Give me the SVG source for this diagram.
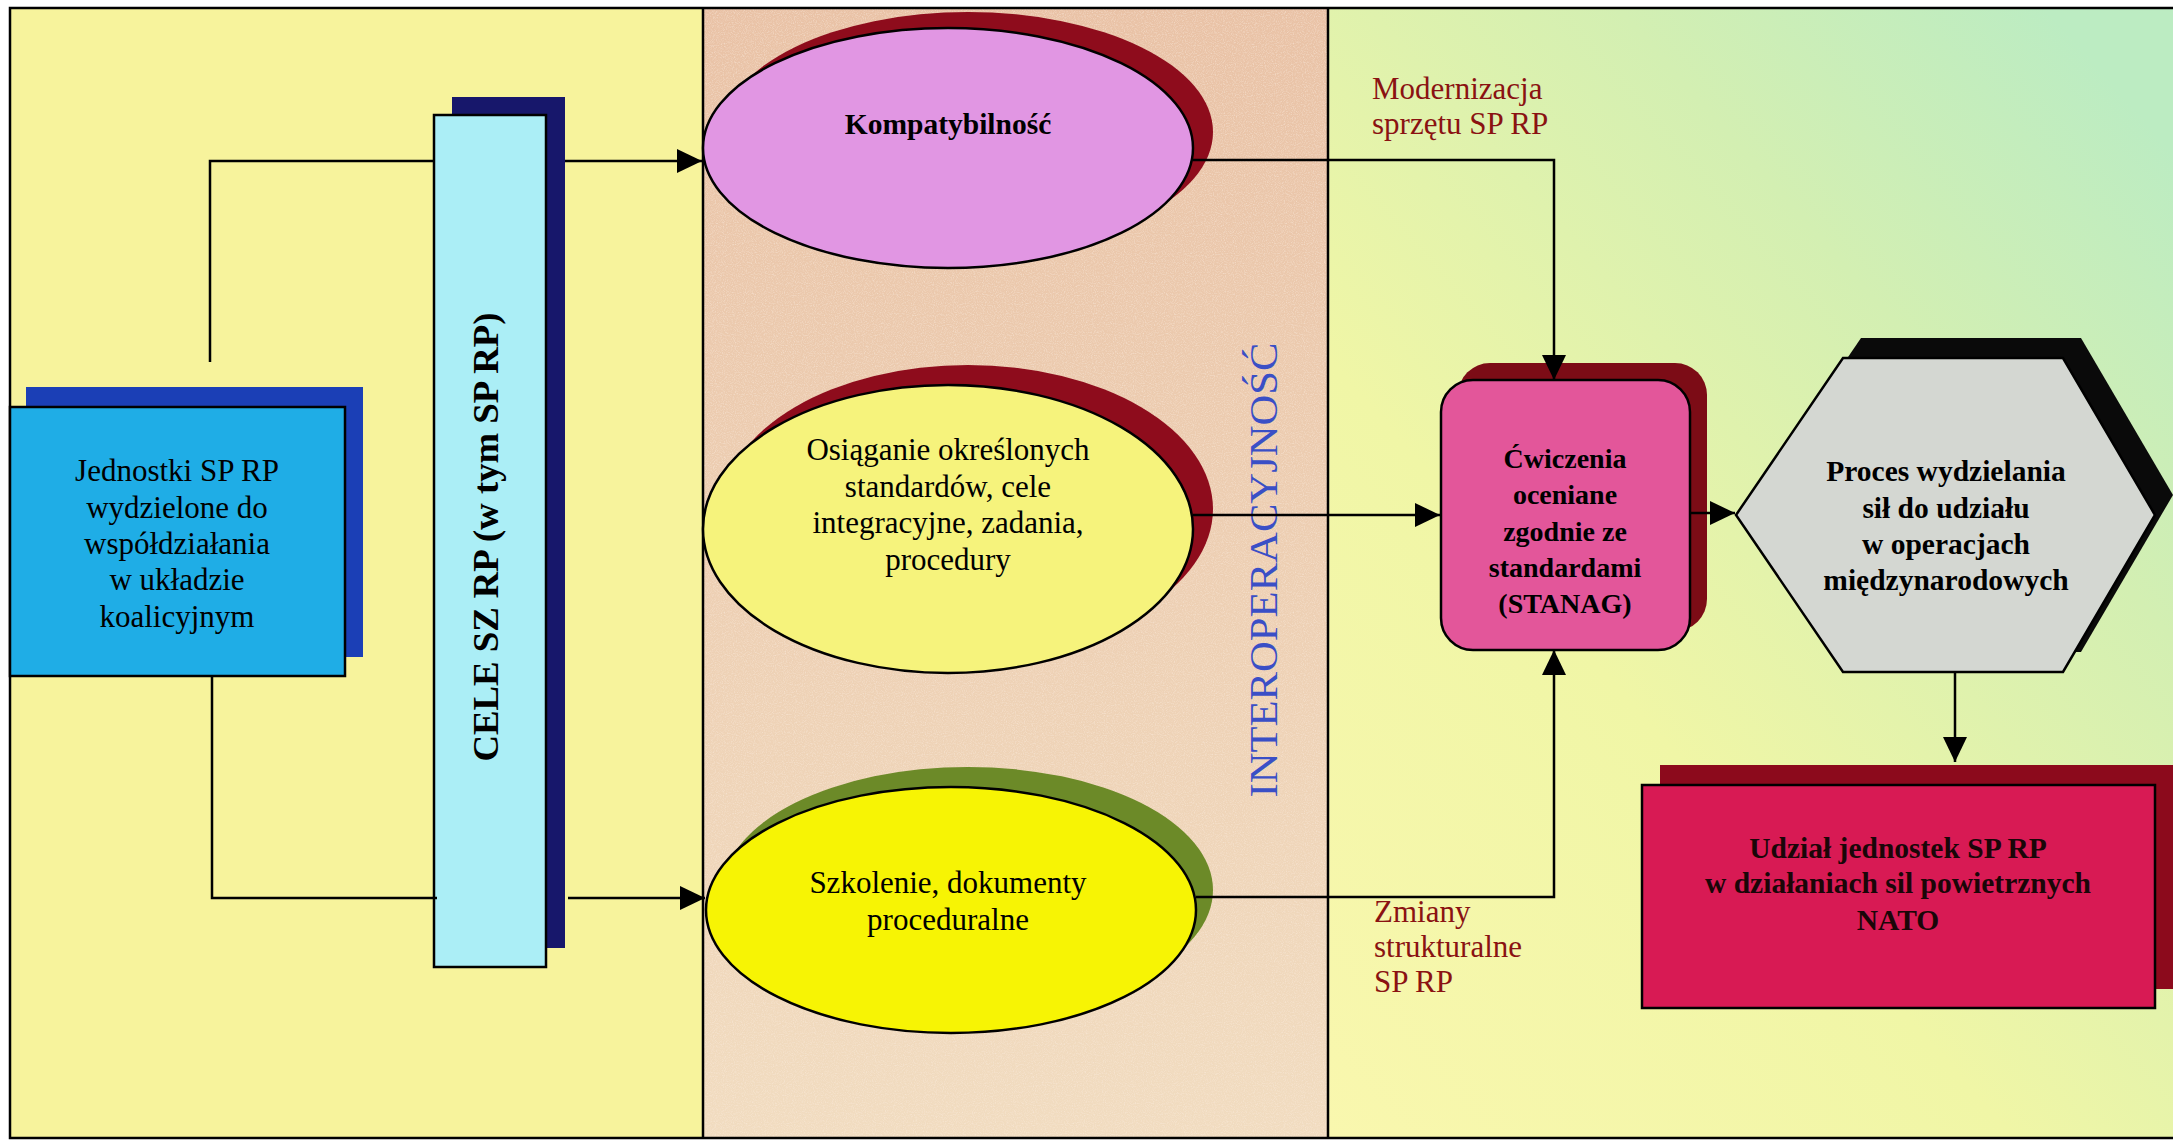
<svg xmlns="http://www.w3.org/2000/svg" width="2173" height="1141" viewBox="0 0 2173 1141">
<defs>
<style>
.ln{fill:none;stroke:#000;stroke-width:2.5}
.bd{stroke:#000;stroke-width:2.5}
.t{font-family:"Liberation Serif","Times New Roman",serif;text-anchor:middle;fill:#000}
.r{font-size:31px}
.b{font-size:28px;font-weight:bold}
.lab{font-family:"Liberation Serif","Times New Roman",serif;font-size:31px;fill:#8a1212}
</style>
<marker id="ah" markerUnits="userSpaceOnUse" markerWidth="26" markerHeight="24" refX="25" refY="12" orient="auto">
<path d="M0,0 L25,12 L0,24 z" fill="#000"/>
</marker>
<linearGradient id="g3" x1="0" y1="1" x2="0.85" y2="0">
<stop offset="0" stop-color="#f9f7ae"/>
<stop offset="0.4" stop-color="#f0f6a6"/>
<stop offset="0.75" stop-color="#d3efb2"/>
<stop offset="1" stop-color="#bcecc2"/>
</linearGradient>
<linearGradient id="g2" x1="0" y1="0" x2="0" y2="1">
<stop offset="0" stop-color="#e9c2a6"/>
<stop offset="1" stop-color="#f1dcc0"/>
</linearGradient>
<filter id="grain" x="0" y="0" width="100%" height="100%">
<feTurbulence type="fractalNoise" baseFrequency="0.9" numOctaves="2" seed="3" result="n"/>
<feColorMatrix in="n" type="matrix" values="0 0 0 0 0.97  0 0 0 0 0.85  0 0 0 0 0.75  0 0 0 1.6 -0.7" result="c"/>
<feComposite in="c" in2="SourceGraphic" operator="in"/>
</filter>
</defs>

<g id="background">
<rect x="10" y="8" width="693" height="1130" fill="#f7f39c"/>
<rect x="703" y="8" width="625" height="1130" fill="url(#g2)"/>
<rect x="703" y="8" width="625" height="1130" fill="#000" filter="url(#grain)" opacity="0.7"/>
<rect x="1328" y="8" width="845" height="1130" fill="url(#g3)"/>
<path class="ln" d="M2173,8 H10 V1138 H2173 M703,8 V1138 M1328,8 V1138"/>
</g>

<g id="n-jednostki">
<rect x="26" y="387" width="337" height="270" fill="#1b3fb6"/>
<rect class="bd" x="10" y="407" width="335" height="269" fill="#1fade6"/>
<text class="t r"><tspan x="177" y="481">Jednostki SP RP</tspan><tspan x="177" y="518">wydzielone do</tspan><tspan x="177" y="554">współdziałania</tspan><tspan x="177" y="590">w układzie</tspan><tspan x="177" y="627">koalicyjnym</tspan></text>
</g>

<g id="n-cele">
<rect x="452" y="97" width="113" height="851" fill="#17176b"/>
<rect class="bd" x="434" y="115" width="112" height="852" fill="#abeef6"/>
<text class="t" transform="translate(498,537) rotate(-90)" font-size="36" font-weight="bold" textLength="449" lengthAdjust="spacingAndGlyphs">CELE  SZ RP (w tym SP RP)</text>
</g>

<g id="n-kompatybilnosc">
<ellipse cx="968" cy="132" rx="245" ry="120" fill="#8e0c1c"/>
<ellipse class="bd" cx="948" cy="148" rx="245" ry="120" fill="#e196e3"/>
<text class="t" x="948" y="134" font-size="29.5" font-weight="bold">Kompatybilność</text>
</g>

<g id="n-osiaganie">
<ellipse cx="968" cy="509" rx="245" ry="144" fill="#8e0c1c"/>
<ellipse class="bd" cx="948" cy="529" rx="245" ry="144" fill="#f6f37c"/>
<text class="t r"><tspan x="948" y="460">Osiąganie określonych</tspan><tspan x="948" y="497">standardów, cele</tspan><tspan x="948" y="533">integracyjne, zadania,</tspan><tspan x="948" y="570">procedury</tspan></text>
</g>

<g id="n-szkolenie">
<ellipse cx="968" cy="890" rx="245" ry="123" fill="#6c8a28"/>
<ellipse class="bd" cx="951" cy="910" rx="245" ry="123" fill="#f7f404"/>
<text class="t r"><tspan x="948" y="893">Szkolenie, dokumenty</tspan><tspan x="948" y="930">proceduralne</tspan></text>
</g>

<g id="label-interoperacyjnosc">
<text class="t" transform="translate(1277,570) rotate(-90)" font-size="40" style="fill:#3a4fc6" textLength="455" lengthAdjust="spacingAndGlyphs">INTEROPERACYJNOŚĆ</text>
</g>

<g id="n-cwiczenia">
<rect x="1458" y="363" width="249" height="268" rx="32" fill="#7c0c16"/>
<rect class="bd" x="1441" y="380" width="249" height="270" rx="32" fill="#e3569a"/>
<text class="t b"><tspan x="1565" y="468">Ćwiczenia</tspan><tspan x="1565" y="504">oceniane</tspan><tspan x="1565" y="541">zgodnie ze</tspan><tspan x="1565" y="577">standardami</tspan><tspan x="1565" y="613">(STANAG)</tspan></text>
</g>

<g id="n-proces">
<polygon points="1754,495 1861,338 2081,338 2173,495 2081,652 1861,652" fill="#0a0a0a"/>
<polygon class="bd" points="1736,515 1843,358 2063,358 2155,515 2063,672 1843,672" fill="#d4d7d2"/>
<text class="t" font-size="29.5" font-weight="bold"><tspan x="1946" y="481">Proces wydzielania</tspan><tspan x="1946" y="518">sił do udziału</tspan><tspan x="1946" y="554">w operacjach</tspan><tspan x="1946" y="590">międzynarodowych</tspan></text>
</g>

<g id="n-udzial">
<rect x="1660" y="765" width="513" height="224" fill="#8c0a1c"/>
<rect class="bd" x="1642" y="785" width="513" height="223" fill="#d81a54"/>
<text class="t" font-size="29.5" font-weight="bold" style="fill:#1a0608"><tspan x="1898" y="858">Udział jednostek SP RP</tspan><tspan x="1898" y="893">w działaniach sil powietrznych</tspan><tspan x="1898" y="930">NATO</tspan></text>
</g>

<g id="labels">
<text class="lab"><tspan x="1372" y="99">Modernizacja</tspan><tspan x="1372" y="134">sprzętu SP RP</tspan></text>
<text class="lab"><tspan x="1374" y="922">Zmiany</tspan><tspan x="1374" y="957">strukturalne</tspan><tspan x="1374" y="992">SP RP</tspan></text>
</g>

<g id="connectors">
<path class="ln" d="M210,362 V161 H434"/>
<path class="ln" d="M565,161 H702" marker-end="url(#ah)"/>
<path class="ln" d="M212,676 V898 H437"/>
<path class="ln" d="M568,898 H705" marker-end="url(#ah)"/>
<path class="ln" d="M1193,160 H1554 V380" marker-end="url(#ah)"/>
<path class="ln" d="M1193,515 H1440" marker-end="url(#ah)"/>
<path class="ln" d="M1196,897 H1554 V650" marker-end="url(#ah)"/>
<path class="ln" d="M1690,513 H1735" marker-end="url(#ah)"/>
<path class="ln" d="M1955,672 V762" marker-end="url(#ah)"/>
</g>
</svg>
